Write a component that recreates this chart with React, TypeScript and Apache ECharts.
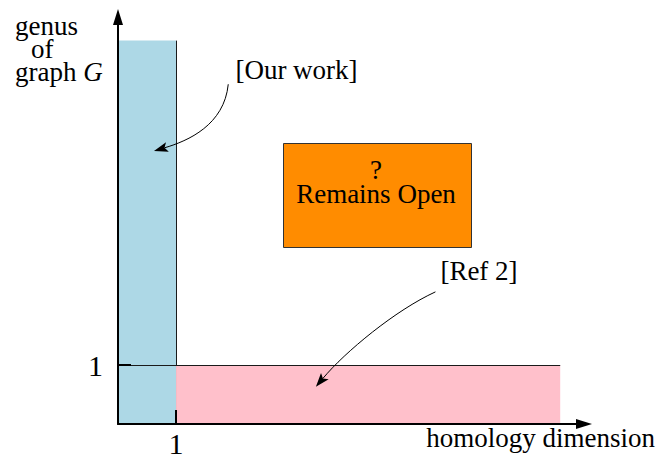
import React, { useEffect, useRef } from 'react';
import * as echarts from 'echarts';

// Regions of the (homology dimension, genus) plane
const regionNames = ['Our work', 'Ref 2', 'Remains Open'];
const regionXStart = [0, 1, 2.85];
const regionXEnd = [1, 7.62, 6.09];
const regionYStart = [0, 0, 3.0];
const regionYEnd = [6.5, 1, 4.76];

// Axis ticks
const xTickValues = [1];
const xTickLabels = ['1'];
const yTickValues = [1];
const yTickLabels = ['1'];
const X_MAX = 8.03;
const Y_MAX = 6.9;

// Annotation arrows (data coordinates): start, control 1, control 2, tip
const arrowNames = ['Our work', 'Ref 2'];
const arrowStart = [[1.9, 5.76], [5.47, 2.24]];
const arrowCtrl1 = [[1.83, 5.07], [4.78, 1.93]];
const arrowCtrl2 = [[1.21, 4.8], [3.91, 1.22]];
const arrowTip = [[0.62, 4.63], [3.41, 0.63]];

export default function App() {
  const ref = useRef<HTMLDivElement>(null);
  useEffect(() => {
    const chart = echarts.init(ref.current!, null, { renderer: 'svg' });
    const font = 'Liberation Serif';
    const FS = 27;
    const crisp = (v: number) => Math.round(v) + 0.5;
    const regionData = regionNames.map((n, i) => [regionXStart[i], regionXEnd[i], regionYStart[i], regionYEnd[i], i]);
    const arrowData = arrowNames.map((n, i) => [
      arrowStart[i][0], arrowStart[i][1], arrowCtrl1[i][0], arrowCtrl1[i][1],
      arrowCtrl2[i][0], arrowCtrl2[i][1], arrowTip[i][0], arrowTip[i][1],
    ]);
    const txt = (extra: any) => ({ fontSize: FS, fontFamily: font, fill: '#000', ...extra });
    const option: any = {
      animation: false,
      textStyle: { fontFamily: font },
      grid: { left: 118, right: 74, top: 17, bottom: 34 },
      xAxis: {
        type: 'value', min: 0, max: X_MAX, z: 10,
        axisLine: { show: true, symbol: ['none', 'triangle'], symbolSize: [10, 16], lineStyle: { color: '#000', width: 2 } },
        axisTick: { show: true, inside: true, length: 14, customValues: xTickValues, lineStyle: { color: '#000', width: 2 } },
        axisLabel: {
          show: true, customValues: xTickValues,
          formatter: (v: number) => xTickLabels[xTickValues.indexOf(v)] ?? '',
          fontSize: 30, fontFamily: font, color: '#000', margin: 4,
        },
        splitLine: { show: false },
      },
      yAxis: {
        type: 'value', min: 0, max: Y_MAX, z: 10,
        axisLine: { show: true, symbol: ['none', 'triangle'], symbolSize: [10, 16], lineStyle: { color: '#000', width: 2 } },
        axisTick: { show: true, inside: true, length: 13, customValues: yTickValues, lineStyle: { color: '#000', width: 2 } },
        axisLabel: {
          show: true, customValues: yTickValues,
          formatter: (v: number) => yTickLabels[yTickValues.indexOf(v)] ?? '',
          fontSize: 30, fontFamily: font, color: '#000', margin: 15,
        },
        splitLine: { show: false },
      },
      series: [
        {
          type: 'custom',
          name: 'regions',
          clip: false,
          data: regionData,
          renderItem: (params: any, api: any) => {
            const i = api.value(4);
            const p0 = api.coord([api.value(0), api.value(2)]);
            const p1 = api.coord([api.value(1), api.value(3)]);
            const x = p0[0], y = p1[1], w = p1[0] - p0[0], h = p0[1] - p1[1];
            if (i === 0) {
              const lx = crisp(p1[0]);
              return {
                type: 'group',
                children: [
                  { type: 'rect', shape: { x, y, width: w, height: h }, style: { fill: '#add8e6' } },
                  { type: 'line', shape: { x1: lx, y1: p1[1], x2: lx, y2: p0[1] }, style: { stroke: '#1a1a1a', lineWidth: 1 } },
                ],
              };
            }
            if (i === 1) {
              const left = api.coord([0, api.value(3)]);
              const ly = crisp(p1[1]);
              return {
                type: 'group',
                children: [
                  { type: 'rect', shape: { x, y, width: w, height: h }, style: { fill: '#ffc0cb' } },
                  { type: 'line', shape: { x1: left[0], y1: ly, x2: p1[0], y2: ly }, style: { stroke: '#1a1a1a', lineWidth: 1 } },
                ],
              };
            }
            const rx = crisp(x), ry = crisp(y);
            return {
              type: 'rect', shape: { x: rx, y: ry, width: Math.round(w), height: Math.round(h) },
              style: { fill: '#ff8c00', stroke: '#333', lineWidth: 1 },
            };
          },
        },
        {
          type: 'custom',
          name: 'arrows',
          clip: false,
          data: arrowData,
          renderItem: (params: any, api: any) => {
            const s = api.coord([api.value(0), api.value(1)]);
            const c1 = api.coord([api.value(2), api.value(3)]);
            const c2 = api.coord([api.value(4), api.value(5)]);
            const t = api.coord([api.value(6), api.value(7)]);
            let dx = t[0] - c2[0], dy = t[1] - c2[1];
            const len = Math.sqrt(dx * dx + dy * dy) || 1;
            dx /= len; dy /= len;
            const L = 14, W = 5;
            const bx = t[0] - dx * L, by = t[1] - dy * L;
            const px = -dy, py = dx;
            return {
              type: 'group',
              children: [
                {
                  type: 'bezierCurve',
                  shape: { x1: s[0], y1: s[1], cpx1: c1[0], cpy1: c1[1], cpx2: c2[0], cpy2: c2[1], x2: bx + dx * 3, y2: by + dy * 3 },
                  style: { stroke: '#000', lineWidth: 1, fill: null },
                },
                {
                  type: 'polygon',
                  shape: { points: [[t[0], t[1]], [bx + px * W, by + py * W], [bx + dx * 3, by + dy * 3], [bx - px * W, by - py * W]] },
                  style: { fill: '#000' },
                },
              ],
            };
          },
        },
      ],
      graphic: [
        { type: 'text', z: 100, x: 15, y: 26, style: txt({ text: 'genus', lineHeight: 22, verticalAlign: 'middle' }) },
        { type: 'text', z: 100, x: 31, y: 49, style: txt({ text: 'of', lineHeight: 22, verticalAlign: 'middle' }) },
        {
          type: 'text', z: 100, x: 15, y: 72,
          style: txt({
            text: 'graph {i|G}', lineHeight: 22, verticalAlign: 'middle',
            rich: { i: { fontStyle: 'italic', fontSize: FS, fontFamily: font, lineHeight: 22 } },
          }),
        },
        { type: 'text', z: 100, x: 296.5, y: 70, style: txt({ text: '[Our work]', align: 'center', verticalAlign: 'middle' }) },
        { type: 'text', z: 100, x: 376, y: 182, style: txt({ text: '?\nRemains Open', lineHeight: 24, align: 'center', verticalAlign: 'middle' }) },
        { type: 'text', z: 100, x: 479, y: 271, style: txt({ text: '[Ref 2]', align: 'center', verticalAlign: 'middle' }) },
        { type: 'text', z: 100, x: 655, y: 438, style: txt({ text: 'homology dimension', align: 'right', verticalAlign: 'middle' }) },
      ],
    };
    chart.setOption(option);
    return () => chart.dispose();
  }, []);
  return <div ref={ref} style={{ width: 658, height: 458, position: 'absolute', left: 0, top: 0 }} />;
}
